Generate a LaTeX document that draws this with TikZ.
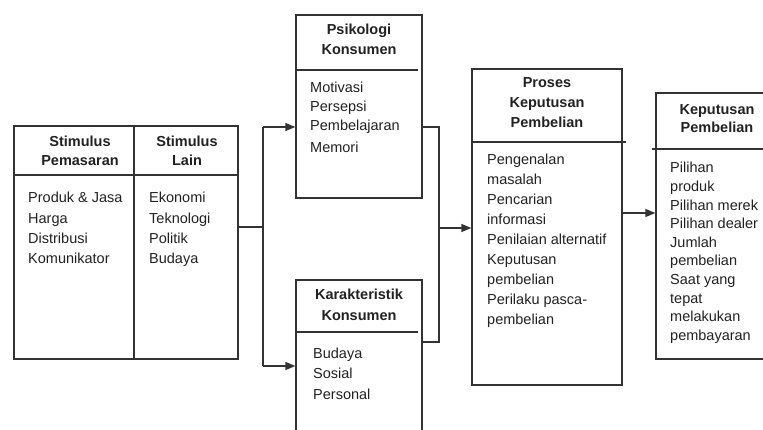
\documentclass[tikz,border=0pt]{standalone}
\usepackage{fontspec}
\setmainfont{Liberation Sans}
\usetikzlibrary{arrows.meta}
\definecolor{linec}{HTML}{333333}
\definecolor{textc}{HTML}{222222}
\tikzset{
  boxst/.style={draw=linec, line width=1.3pt, rectangle, inner sep=0pt, fill=white},
  sepline/.style={draw=linec, line width=1.3pt},
  conn/.style={draw=linec, line width=1.3pt},
  arr/.style={conn, -{Triangle[length=10pt,width=8pt]}, shorten >=0pt},
  item/.style={anchor=base west, inner sep=0pt, text=textc, font=\fontsize{14.5}{18}\selectfont},
  head/.style={anchor=base, inner sep=0pt, text=textc, font=\fontsize{14.5}{18}\selectfont\bfseries},
}
\begin{document}
\begin{tikzpicture}[x=1pt,y=-1pt]
\clip (0,0) rectangle (763,430);
\fill[white] (0,0) rectangle (763,430);

% boxes
\node[boxst, minimum width=224pt, minimum height=233pt] (stim) at (126,242.5) {};
\node[boxst, minimum width=126pt, minimum height=183pt] (psi) at (359,106.5) {};
\node[boxst, minimum width=126pt, minimum height=200pt] (kar) at (359,380) {};
\node[boxst, minimum width=150pt, minimum height=316pt] (pro) at (547,227) {};
\node[boxst, minimum width=124pt, minimum height=266pt] (kep) at (718,226) {};

% header separators and divider
\draw[sepline] (stim.west |- 0,175) -- (stim.east |- 0,175);
\draw[sepline] (134,0 |- stim.north) -- (134,0 |- stim.south);
\draw[sepline] (psi.west |- 0,70) -- (418,70);
\draw[sepline] (kar.west |- 0,332) -- (418,332);
\draw[sepline] (pro.west |- 0,142) -- (626,142);
\draw[sepline] (652,149) -- (kep.east |- 0,149);

% connectors
\coordinate (js) at (263,227);
\coordinate (ja) at (263,127);
\coordinate (jb) at (263,366);
\draw[conn] (stim.east |- js) -- (js);
\draw[conn] (ja) -- (jb);
\draw[arr] (ja) -- (ja -| psi.west);
\draw[arr] (jb) -- (jb -| kar.west);

\coordinate (ka) at (439,127);
\coordinate (kb) at (439,342);
\coordinate (kc) at (439,228);
\draw[conn] (ka -| psi.east) -- (ka) -- (kb) -- (kb -| kar.east);
\draw[arr] (kc) -- (kc -| pro.west);

\coordinate (lp) at (622,213);
\draw[arr] (pro.east |- lp) -- (kep.west |- lp);

% Stimulus headers
\node[head] (sh1) at (80,147) {Stimulus};
\node[head] (sh2) at (80,166) {Pemasaran};
\node[head] (sh3) at (187,147) {Stimulus};
\node[head] (sh4) at (187,166) {Lain};

\foreach \t [count=\i] in {Produk \& Jasa, Harga, Distribusi, Komunikator}
  \node[item] (sa\i) at (28,{203+20.3*(\i-1)}) {\t};
\foreach \t [count=\i] in {Ekonomi, Teknologi, Politik, Budaya}
  \node[item] (sb\i) at (149,{203+20.3*(\i-1)}) {\t};

% Psikologi
\node[head] (ph1) at (359,35) {Psikologi};
\node[head] (ph2) at (359,55) {Konsumen};
\node[item] (pi1) at (310,93) {Motivasi};
\node[item] (pi2) at (310,112) {Persepsi};
\node[item] (pi3) at (310,131) {Pembelajaran};
\node[item] (pi4) at (310,153) {Memori};

% Karakteristik
\node[head] (kh1) at (359,300) {Karakteristik};
\node[head] (kh2) at (359,320) {Konsumen};
\node[item] (ki1) at (313,358) {Budaya};
\node[item] (ki2) at (313,378) {Sosial};
\node[item] (ki3) at (313,399) {Personal};

% Proses
\node[head] (rh1) at (547,88) {Proses};
\node[head] (rh2) at (547,108) {Keputusan};
\node[head] (rh3) at (547,128) {Pembelian};
\foreach \t [count=\i] in {Pengenalan, masalah, Pencarian, informasi, Penilaian alternatif, Keputusan, pembelian, Perilaku pasca-, pembelian}
  \node[item] (ri\i) at (487,{165+20*(\i-1)}) {\t};

% Keputusan
\node[head] (eh1) at (717,115) {Keputusan};
\node[head] (eh2) at (717,133) {Pembelian};
\foreach \t [count=\i] in {Pilihan, produk, Pilihan merek, Pilihan dealer, Jumlah, pembelian, Saat yang, tepat, melakukan, pembayaran}
  \node[item] (ei\i) at (670,{173+18.6*(\i-1)}) {\t};
\end{tikzpicture}
\end{document}
